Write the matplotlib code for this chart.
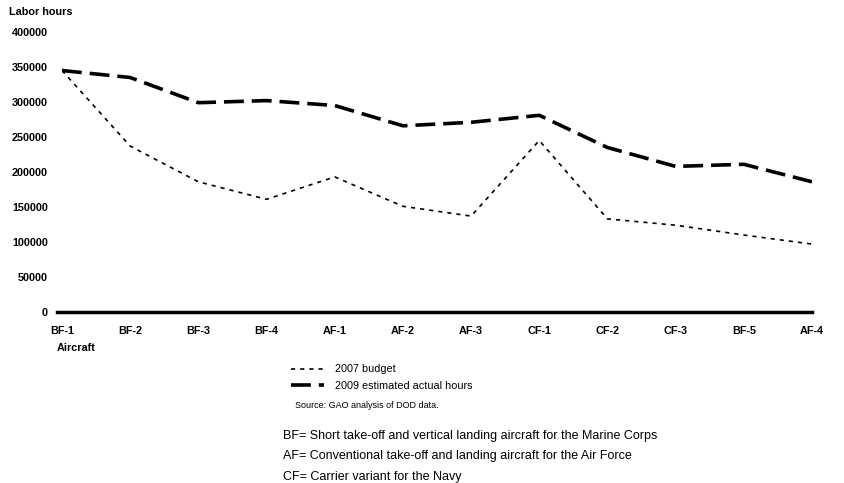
import matplotlib.pyplot as plt

plt.rcParams['font.family'] = ['Liberation Sans', 'DejaVu Sans']

aircraft = ["BF-1", "BF-2", "BF-3", "BF-4", "AF-1", "AF-2",
            "AF-3", "CF-1", "CF-2", "CF-3", "BF-5", "AF-4"]
budget_2007 = [345000, 237000, 186000, 161000, 193000, 151000,
               137000, 245000, 133000, 124000, 110000, 97000]
actual_2009 = [345000, 335000, 299000, 302000, 295000, 266000,
               271000, 281000, 235000, 208000, 211000, 186000]
yticks = [0, 50000, 100000, 150000, 200000, 250000, 300000, 350000, 400000]

W, H = 844, 483
fig = plt.figure(figsize=(W / 100, H / 100), dpi=100)
ax = fig.add_axes([62 / W, 1 - 312 / H, (812 - 62) / W, (312 - 32) / H])

x = list(range(len(aircraft)))
l1, = ax.plot(x, budget_2007, color="black", lw=1.2, ls=(0, (2.5, 3)),
              label="2007 budget")
l2, = ax.plot(x, actual_2009, color="black", lw=2.6, ls=(0, (5.5, 2.2)),
              label="2009 estimated actual hours")
ax.axhline(0, xmin=-0.007, xmax=1, color="black", lw=2.5, clip_on=False)

ax.set_xlim(0, len(aircraft) - 1)
ax.set_ylim(0, 400000)
ax.set_xticks(x)
ax.set_xticklabels(aircraft, fontsize=7.8, fontweight="bold")
ax.set_yticks(yticks)
ax.set_yticklabels([str(v) for v in yticks], fontsize=7.8, fontweight="bold")
ax.tick_params(length=0, pad=10)
for s in ax.spines.values():
    s.set_visible(False)

fig.text(9 / W, 1 - 12 / H, "Labor hours", fontsize=7.8, fontweight="bold",
         va="center")
fig.text(57 / W, 1 - 348 / H, "Aircraft", fontsize=7.8, fontweight="bold",
         va="center")

fig.legend(handles=[l1, l2], loc="upper left",
           bbox_to_anchor=(287 / W, 1 - 360 / H), frameon=False,
           fontsize=7.8, handlelength=3, handletextpad=1.0, labelspacing=0.6,
           borderaxespad=0)
fig.text(295 / W, 1 - 405 / H, "Source: GAO analysis of DOD data.",
         fontsize=6.5, va="center")

notes = ["BF= Short take-off and vertical landing aircraft for the Marine Corps",
         "AF= Conventional take-off and landing aircraft for the Air Force",
         "CF= Carrier variant for the Navy"]
for i, n in enumerate(notes):
    fig.text(283 / W, 1 - (436 + 20.5 * i) / H, n, fontsize=9, va="center")

fig.savefig("out.png", dpi=100)
